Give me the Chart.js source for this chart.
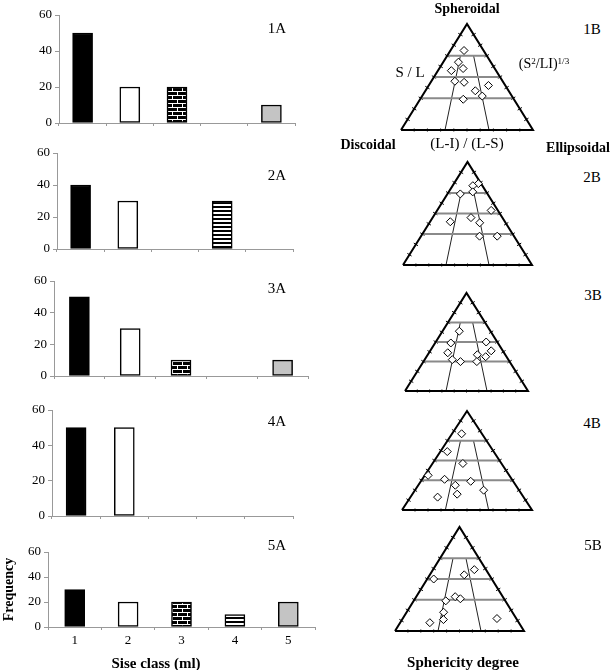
<!DOCTYPE html>
<html>
<head>
<meta charset="utf-8">
<script src="https://cdn.jsdelivr.net/npm/chart.js@4.4.0/dist/chart.umd.min.js"></script>
<style>
  body { margin: 0; background: #fff; }
  #fig { position: relative; width: 610px; height: 670px; overflow: hidden;
         font-family: "Liberation Serif", "Times New Roman", serif; color: #000; }
  #fig canvas { position: absolute; }
  .lbl { position: absolute; white-space: nowrap; transform: translate(-50%, -50%); line-height: 1; }
  .b { font-weight: bold; }
  sup { font-size: 0.65em; vertical-align: 0.45em; }
</style>
</head>
<body>
<div id="fig"></div>
<script>
// size classes and frequencies (%) per sample
const sizeClasses = ["1", "2", "3", "4", "5"];
const freq1A = [50, 20, 20, 0, 10];
const freq2A = [40, 30, 0, 30, 0];
const freq3A = [50, 30, 10, 0, 10];
const freq4A = [50, 50, 0, 0, 0];
const freq5A = [30, 20, 20, 10, 20];
const freqTicks = [0, 20, 40, 60];

// Sneed & Folk diagram: S/L levels and (L-I)/(L-S) divisions
const slLevels = [0.3, 0.5, 0.7];
const liLevels = [1 / 3, 2 / 3];
const sideTicks = [0.1, 0.2, 0.3, 0.4, 0.5, 0.6, 0.7, 0.8, 0.9];

// pebbles: (L-I)/(L-S) and S/L
const li1B = [0.41, 0.32, 0.43, 0.23, 0.33, 0.46, 0.78, 0.60, 0.67, 0.46];
const sl1B = [0.75, 0.64, 0.58, 0.56, 0.46, 0.45, 0.42, 0.37, 0.32, 0.29];
const li2B = [0.90, 0.68, 0.64, 0.32, 0.89, 0.55, 0.27, 0.66, 0.63, 0.82];
const sl2B = [0.79, 0.77, 0.71, 0.69, 0.53, 0.46, 0.42, 0.41, 0.28, 0.28];
const li3B = [0.35, 0.25, 0.82, 0.25, 0.84, 0.64, 0.74, 0.33, 0.43, 0.62];
const sl3B = [0.61, 0.49, 0.50, 0.39, 0.41, 0.37, 0.35, 0.32, 0.30, 0.30];
const li4B = [0.32, 0.13, 0.44, 0.04, 0.25, 0.38, 0.54, 0.66, 0.41, 0.24];
const sl4B = [0.77, 0.59, 0.47, 0.35, 0.31, 0.25, 0.29, 0.20, 0.16, 0.13];
const li5B = [0.78, 0.58, 0.10, 0.45, 0.51, 0.35, 0.35, 0.36, 0.25, 0.83];
const sl5B = [0.59, 0.54, 0.50, 0.33, 0.31, 0.29, 0.18, 0.11, 0.08, 0.12];

const fig = document.getElementById("fig");
const SERIF = "'Liberation Serif', 'Times New Roman', serif";

function addCanvas(left, top, w, h) {
  const c = document.createElement("canvas");
  c.width = w; c.height = h;
  c.style.left = left + "px"; c.style.top = top + "px";
  c.style.width = w + "px"; c.style.height = h + "px";
  fig.appendChild(c);
  return c;
}

function label(html, x, y, size, bold) {
  const d = document.createElement("div");
  d.className = "lbl" + (bold ? " b" : "");
  d.style.left = x + "px"; d.style.top = y + "px";
  d.style.fontSize = size + "px";
  d.innerHTML = html;
  fig.appendChild(d);
  return d;
}

function makePattern(w, h, draw) {
  const c = document.createElement("canvas");
  c.width = w; c.height = h;
  const g = c.getContext("2d");
  draw(g);
  return g.createPattern(c, "repeat");
}

const brick = makePattern(10, 8, (g) => {
  g.fillStyle = "#000"; g.fillRect(0, 0, 10, 8);
  g.fillStyle = "#fff";
  g.fillRect(0, 3, 10, 1); g.fillRect(0, 7, 10, 1);
  g.fillRect(2, 0, 1, 3); g.fillRect(7, 4, 1, 3);
});
const stripes = makePattern(4, 4, (g) => {
  g.fillStyle = "#fff"; g.fillRect(0, 0, 4, 4);
  g.fillStyle = "#000"; g.fillRect(0, 0, 4, 2);
});
const classFills = ["#000", "#fff", brick, stripes, "#c4c4c4"];

function makeBars(data, box, last) {
  const w = 325, h = box.B - box.T + 45;
  const cv = addCanvas(0, box.T - 15, w, h);
  new Chart(cv, {
    type: "bar",
    data: {
      labels: sizeClasses,
      datasets: [{
        data,
        backgroundColor: (c) => (c.raw ? classFills[c.dataIndex] : "rgba(0,0,0,0)"),
        borderColor: (c) => (c.raw ? "#000" : "rgba(0,0,0,0)"),
        borderWidth: (c) => (c.raw ? 1.5 : 0),
        borderSkipped: false,
        barThickness: 20,
      }],
    },
    options: {
      responsive: false,
      animation: false,
      events: [],
      layout: { padding: { top: 15, right: w - box.R, left: 0, bottom: 0 } },
      plugins: { legend: { display: false }, tooltip: { enabled: false } },
      scales: {
        x: {
          grid: { offset: true, drawOnChartArea: false, tickLength: 3, color: "#999" },
          border: { color: "#999" },
          ticks: { color: last ? "#000" : "rgba(0,0,0,0)", font: { family: SERIF, size: 13 }, padding: 3 },
          afterFit: (s) => { s.height = 30; },
        },
        y: {
          min: 0, max: 60,
          afterBuildTicks: (s) => { s.ticks = freqTicks.map((v) => ({ value: v })); },
          grid: { drawOnChartArea: false, tickLength: 4, color: "#999" },
          border: { color: "#999" },
          ticks: { color: "#000", font: { family: SERIF, size: 13 }, padding: 3 },
          title: {
            display: !!last, text: "Frequency", color: "#000",
            font: { family: SERIF, size: 14, weight: "bold" }, padding: { top: 1, bottom: 0 },
          },
          afterFit: (s) => { s.width = box.L; },
        },
      },
    },
  });
}

function tern(f, h) {
  return { x: f * (1 - h) + h / 2, y: h };
}

function makeTernary(li, sl, box) {
  const pad = 10;
  const W = box.R - box.L, H = box.B - box.T;
  const cv = addCanvas(box.L - pad, box.T - pad, W + 2 * pad, H + 2 * pad);
  const tilt = 90 - (Math.atan2(H, W / 2) * 180) / Math.PI;
  const lineDs = (pts, color, width) => ({
    data: pts, showLine: true, borderColor: color, borderWidth: width,
    pointRadius: 0, clip: false,
  });
  const tickDs = (pts, rot, r) => ({
    data: pts, pointStyle: "line", rotation: rot, pointRadius: r,
    borderColor: "#000", borderWidth: 1, clip: false,
  });
  const datasets = [
    {
      data: li.map((f, i) => tern(f, sl[i])),
      pointStyle: "rectRot", pointRadius: 4,
      backgroundColor: "#fff", borderColor: "#000", borderWidth: 1, clip: false,
    },
    lineDs([tern(0, 0), tern(1, 0), tern(0, 1), tern(0, 0)], "#000", 2),
  ];
  slLevels.forEach((h) => datasets.push(lineDs([tern(0, h), tern(1, h)], "#8a8a8a", 2)));
  liLevels.forEach((f) => datasets.push(lineDs([tern(f, 0), tern(f, slLevels[slLevels.length - 1])], "#222", 1)));
  datasets.push(tickDs(sideTicks.map((h) => tern(0, h)), tilt, 2.5));
  datasets.push(tickDs(sideTicks.map((h) => tern(1, h)), -tilt, 2.5));
  datasets.push(tickDs(sideTicks.map((f) => tern(f, 0)), 90, 1.5));

  new Chart(cv, {
    type: "scatter",
    data: { datasets },
    options: {
      responsive: false,
      animation: false,
      events: [],
      layout: { padding: pad },
      plugins: { legend: { display: false }, tooltip: { enabled: false } },
      scales: {
        x: { type: "linear", min: 0, max: 1, display: false },
        y: { type: "linear", min: 0, max: 1, display: false },
      },
    },
  });
}

makeBars(freq1A, { L: 59, T: 15, R: 295, B: 123 });
makeBars(freq2A, { L: 57, T: 153, R: 293, B: 249 });
makeBars(freq3A, { L: 54, T: 281, R: 308, B: 376 });
makeBars(freq4A, { L: 52, T: 410, R: 293, B: 516 });
makeBars(freq5A, { L: 48, T: 552, R: 315, B: 627 }, true);

makeTernary(li1B, sl1B, { L: 401, R: 533, T: 24, B: 130 });
makeTernary(li2B, sl2B, { L: 403, R: 532, T: 162, B: 265 });
makeTernary(li3B, sl3B, { L: 405, R: 528, T: 293, B: 391 });
makeTernary(li4B, sl4B, { L: 402, R: 532, T: 411, B: 510 });
makeTernary(li5B, sl5B, { L: 395, R: 524, T: 527, B: 631 });

label("1A", 277, 28, 15);
label("2A", 277, 175, 15);
label("3A", 277, 288, 15);
label("4A", 277, 421, 15);
label("5A", 277, 545, 15);
label("Sise class (ml)", 156, 663, 15, true);

label("1B", 592, 29, 15);
label("2B", 592, 177, 15);
label("3B", 593, 295, 15);
label("4B", 592, 423, 15);
label("5B", 593, 545, 15);
label("Spheroidal", 467, 9, 14, true);
label("S / L", 410, 72, 15);
label("(S<sup>2</sup>/LI)<sup>1/3</sup>", 544, 64, 14);
label("Discoidal", 368, 145, 14, true);
label("(L-I) / (L-S)", 467, 143, 15);
label("Ellipsoidal", 578, 148, 14, true);
label("Sphericity degree", 463, 662, 15, true);
</script>
</body>
</html>
